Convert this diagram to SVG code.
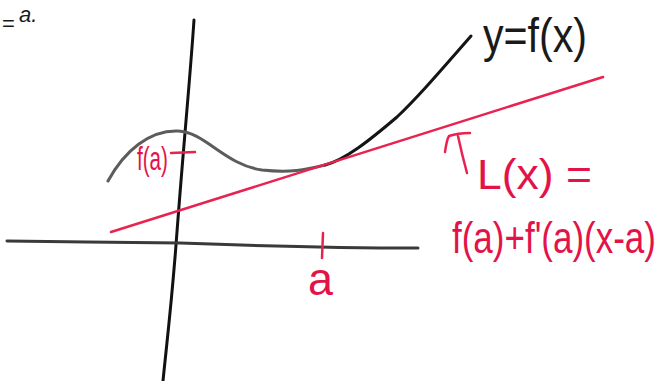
<svg xmlns="http://www.w3.org/2000/svg" width="665" height="381" viewBox="0 0 665 381">
<style>
.ink{fill:none;stroke-linecap:round;stroke-linejoin:round}
.red{stroke:#e8234f}
.hand{font-family:"Liberation Sans Narrow","Liberation Sans",sans-serif}
.rt{fill:#e3134a}
.bt{fill:#1a1a1a}
</style>
<rect width="665" height="381" fill="#ffffff"/>
<g id="top-fragment">
<text class="hand bt" x="2" y="31" font-size="22">=</text>
<text class="hand bt" x="19" y="22" font-size="22" font-style="italic">a.</text>
</g>
<g id="axes">
<path class="ink" stroke="#111" stroke-width="3" d="M194,20 C190,80 183,150 176,245 C171,310 166,350 163,381"/>
<path class="ink" stroke="#3a3a3a" stroke-width="3" d="M7,241 C60,242 130,242 180,243 C260,246 320,248 418,248"/>
</g>
<g id="curve">
<path class="ink" stroke="#5c5c5c" stroke-width="3" d="M108,181 C125,150 150,130 178,131 C205,132 225,165 262,170 C290,173 305,170 325,165"/>
<path class="ink" stroke="#151515" stroke-width="3" d="M325,165 C345,160 370,140 397,117 C415,100 430,83 471,36"/>
<text class="hand bt" x="483" y="52" font-size="48" textLength="104" lengthAdjust="spacingAndGlyphs">y=f(x)</text>
</g>
<g id="tangent">
<path class="ink red" stroke-width="2.5" d="M111,232 L603,77"/>
<path class="ink red" stroke-width="2.5" d="M445,152 C446,145 447,139 449,136 C455,134 462,133 470,133 M458,136 C461,150 464,162 467,173"/>
<text class="hand rt" x="477" y="189" font-size="42" textLength="115" lengthAdjust="spacingAndGlyphs">L(x) =</text>
<text class="hand rt" transform="translate(452,253) scale(1,1.26)" x="0" y="0" font-size="35">f(a)+f'(a)(x-a)</text>
</g>
<g id="fa-label">
<path class="ink red" stroke-width="2.5" d="M171,153 L195,152"/>
<text class="hand rt" x="137" y="170" font-size="34" textLength="31" lengthAdjust="spacingAndGlyphs">f(a)</text>
</g>
<g id="a-tick">
<path class="ink red" stroke-width="2.5" d="M323,233 L322,258"/>
<text class="hand rt" x="308" y="295" font-size="46" textLength="25" lengthAdjust="spacingAndGlyphs">a</text>
</g>
</svg>
